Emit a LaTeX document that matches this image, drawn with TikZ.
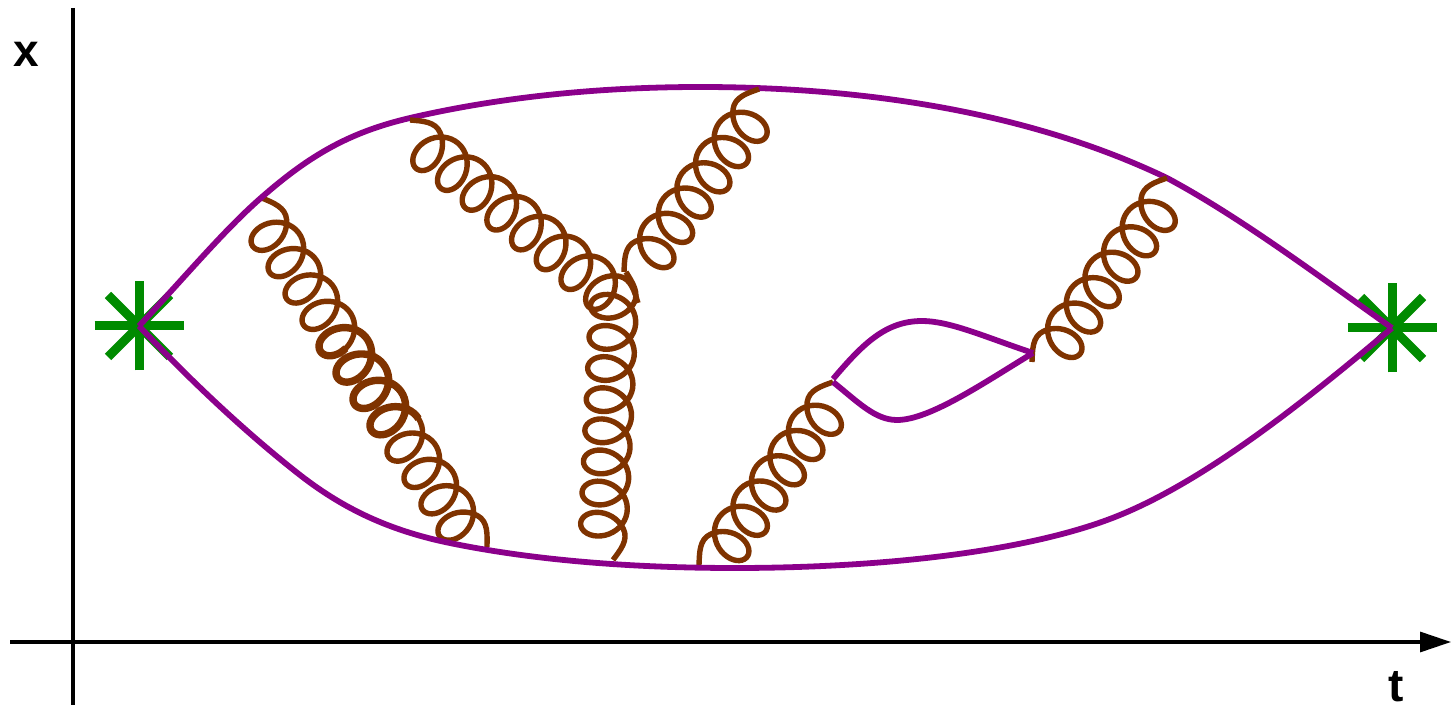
\documentclass[tikz,border=0pt]{standalone}
\usepackage{fontspec}
\setmainfont{Liberation Sans}
\usetikzlibrary{arrows.meta}
\definecolor{quark}{HTML}{8B008B}
\definecolor{gluoncol}{HTML}{7F3300}
\definecolor{stargreen}{HTML}{008B00}
\tikzset{
  gluonline/.style={draw=gluoncol,line width=5.4pt,line join=round},
  quarkline/.style={draw=quark,line width=5.8pt,line join=round},
  starline/.style={draw=stargreen,line width=9pt},
  axisline/.style={draw=black,line width=3.2pt},
  axislabel/.style={font=\bfseries\fontsize{46}{46}\selectfont,inner sep=0pt,anchor=base}
}
% gluon: start, end, number of loops, thick part from / to (degrees)
\newcommand\gluon[5]{%
  \path (#1); \pgfgetlastxy{\gxa}{\gya}%
  \path (#2); \pgfgetlastxy{\gxb}{\gyb}%
  \pgfmathsetmacro\gL{veclen(\gxb-\gxa,\gyb-\gya)}%
  \pgfmathsetmacro\gang{atan2(\gyb-\gya,\gxb-\gxa)}%
  \pgfmathsetmacro\gh{19.5}%
  \pgfmathsetmacro\gp{(\gL-2*\gh)/#3}%
  \pgfmathsetmacro\gB{23}%
  \pgfmathsetmacro\gc{11}%
  \pgfmathsetmacro\gA{19}%
  \pgfmathsetmacro\gs{\gp/12+\gA/2}%
  \pgfmathsetmacro\gv{-\gc+\gB*cos(30)}%
  \pgfmathsetmacro\gend{360*#3-30}%
  \pgfmathsetmacro\gsam{int(36*#3+1)}%
  \begin{scope}[shift={(#1)},rotate=\gang]
    \draw[gluonline] (0,0) .. controls ({.5*\gh},6.5) and ({\gh+\gs-11},15) .. ({\gh+\gs},\gv)
      -- plot[domain=30:\gend,samples=\gsam,variable=\t]
         ({\gh+\t/360*\gp+\gA*sin(\t)},{-\gc+\gB*cos(\t)})
      .. controls ({\gL-\gh-\gs+11},15) and ({\gL-.5*\gh},6.5) .. (\gL,0);
    \ifnum#5>0
      \draw[gluonline,line width=7.4pt] plot[domain=#4:#5,samples=150,variable=\t]
         ({\gh+\t/360*\gp+\gA*sin(\t)},{-\gc+\gB*cos(\t)});
    \fi
  \end{scope}%
}
\begin{document}
\begin{tikzpicture}[x=1pt,y=1pt]
\useasboundingbox (0,0) rectangle (1451,707);
% y = 707 - pixel row
\coordinate (xtop) at (73,699);
\coordinate (xbot) at (73,2);
\coordinate (tleft) at (10,65);
\coordinate (tright) at (1451,65);
\draw[axisline] (xtop) -- (xbot);
\draw[axisline,-{Triangle[length=31pt,width=20pt]}] (tleft) -- (tright);
\node[axislabel] (xlabel) at (26,640) {x};
\node[axislabel] (tlabel) at (1396,6) {t};
% stars
\coordinate (sl) at (139,381);
\coordinate (sr) at (1392,379);
\foreach \c in {sl,sr}{
  \draw[starline] ([xshift=-44.5pt]\c) -- ([xshift=44.5pt]\c);
  \draw[starline] ([yshift=-44.5pt]\c) -- ([yshift=44.5pt]\c);
  \draw[starline] ([shift={(-31,-31)}]\c) -- ([shift={(31,31)}]\c);
  \draw[starline] ([shift={(-31,31)}]\c) -- ([shift={(31,-31)}]\c);
}
% gluon end points
\coordinate (aA) at (262,509);  \coordinate (aB) at (487,160);
\coordinate (bA) at (410,587);  \coordinate (bB) at (638,404);
\coordinate (cA) at (626,435);  \coordinate (cB) at (613,147);
\coordinate (dA) at (624,435);  \coordinate (dB) at (759,618);
\coordinate (eA) at (699,142);  \coordinate (eB) at (833,325);
\coordinate (fA) at (1032,345); \coordinate (fB) at (1167,529);
% gluons under the quark lines
\gluon{aA}{aB}{12}{1530}{2880}
\gluon{cA}{cB}{8}{0}{0}
\gluon{eA}{eB}{6}{0}{0}
% outer quark lines
\draw[quarkline] (sl) .. controls (185,430) and (225,478) .. (262,510)
  .. controls (310,552) and (350,575) .. (410,589)
  .. controls (500,610) and (600,620) .. (700,620)
  .. controls (880,620) and (1040,590) .. (1167,529)
  .. controls (1240,490) and (1320,430) .. (sr);
\draw[quarkline] (sl) .. controls (190,327) and (245,275) .. (300,232)
  .. controls (345,197) and (390,177) .. (445,165)
  .. controls (530,147) and (630,139) .. (735,139)
  .. controls (880,139) and (1030,155) .. (1120,192)
  .. controls (1210,229) and (1310,310) .. (sr);
% gluons over the quark lines
\gluon{bA}{bB}{8}{0}{0}
\gluon{dA}{dB}{6}{0}{0}
\gluon{fA}{fB}{6}{0}{0}
% inner loop
\coordinate (la) at (833,328);
\coordinate (lb) at (1033,354);
\draw[quarkline] (la) .. controls (862,362) and (885,386) .. (922,386) .. controls (950,386) and (985,370) .. (lb);
\draw[quarkline] ([yshift=-3pt]la) .. controls (858,305) and (875,287) .. (897,287) .. controls (930,287) and (985,325) .. (lb);
\end{tikzpicture}
\end{document}
